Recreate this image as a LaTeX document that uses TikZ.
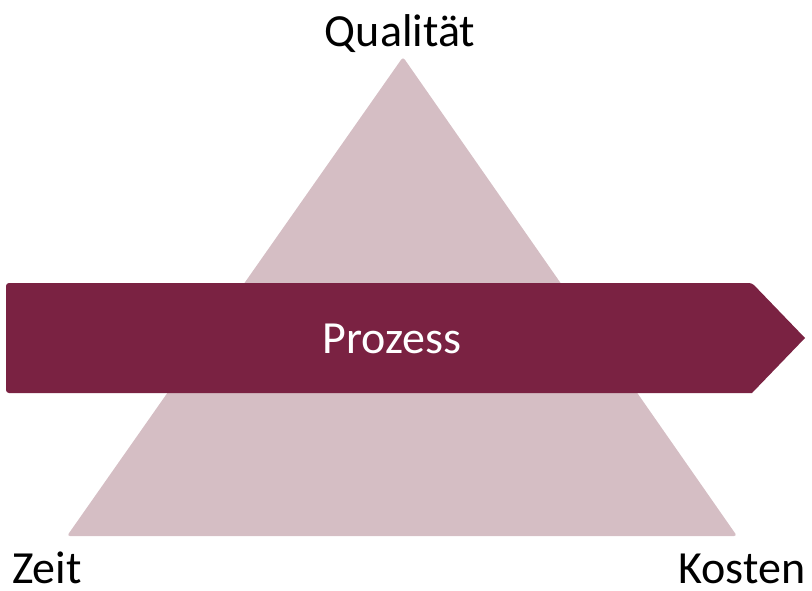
\documentclass[tikz,border=0pt]{standalone}
\usepackage{fontspec}
\setmainfont{Carlito}
\usepackage{tikz}
\usetikzlibrary{calc}

\definecolor{dreieck}{RGB}{213,190,196}
\definecolor{weinrot}{RGB}{122,34,66}

\begin{document}
\begin{tikzpicture}[x=1pt,y=-1pt,
  label/.style={anchor=base,inner sep=0pt,text depth=0pt,font=\fontsize{46}{55}\selectfont}]
\useasboundingbox (0,0) rectangle (812,590);
% triangle
\fill [dreieck, rounded corners=3pt] (403,57) -- (737,536) -- (67,536) -- cycle;
% arrow
\fill [weinrot, rounded corners=3pt] (6,283) -- (752,283) [sharp corners] -- (805,338) -- (752,393) [rounded corners=3pt] -- (6,393) -- cycle;
\node [label, text=white] (prozess) at (392,353) {Prozess};
% corners
\node [label] (qualitaet) at (400,46) {Qualität};
\node [label] (zeit) at (47,583) {Zeit};
\node [label] (kosten) at (742,583) {Kosten};
\end{tikzpicture}
\end{document}
